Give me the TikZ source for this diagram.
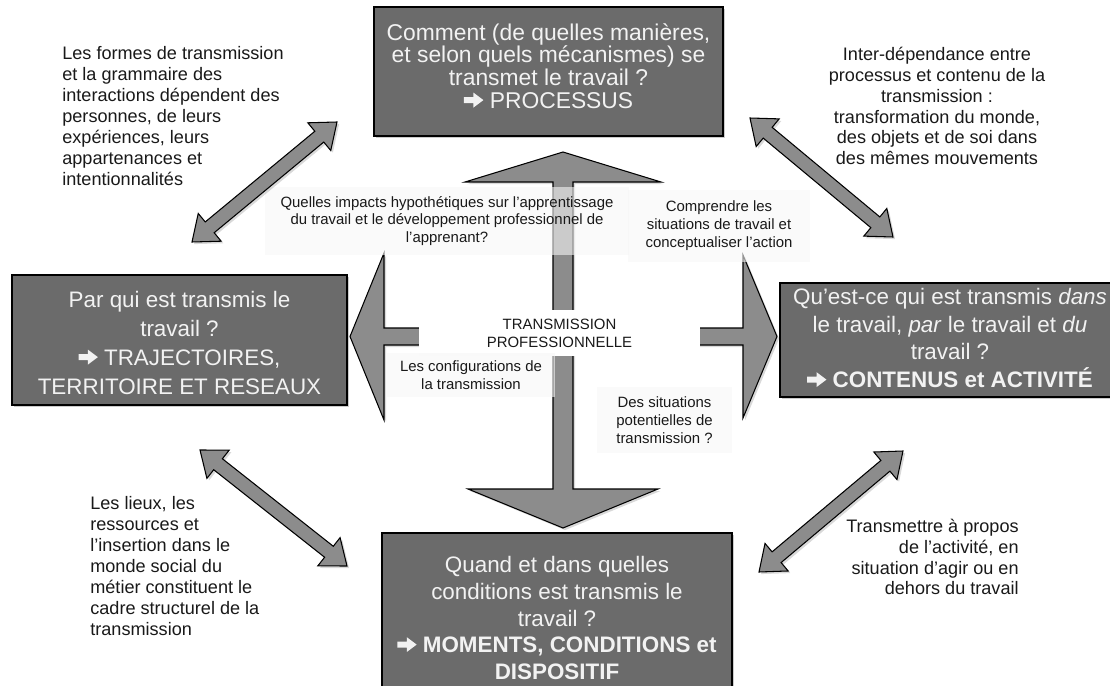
\documentclass[tikz,border=0pt]{standalone}
\usepackage{fontspec}
\setmainfont{Liberation Sans}
\usetikzlibrary{calc,shadows}
\definecolor{boxfill}{RGB}{107,107,107}
\definecolor{boxtext}{RGB}{242,242,242}
\definecolor{arrfill}{RGB}{140,140,140}
\definecolor{labbg}{RGB}{246,246,246}
\definecolor{txtcol}{RGB}{25,25,25}
\newcommand{\harr}{\tikz[baseline=0pt, x=1em, y=1em]
  \fill[line join=miter] (0,0.24) -- (0.42,0.24) -- (0.42,0.04) -- (0.86,0.37)
  -- (0.42,0.70) -- (0.42,0.50) -- (0,0.50) -- cycle;}
\def\arrHL{0.46cm}
\def\arrHW{0.36cm}
\def\arrSW{0.14cm}
\newcommand{\dblarrow}[2]{%
  \filldraw[shapearrow] (#1)
    -- ($(#1)!\arrHL!(#2)!\arrHW!90:(#2)$)
    -- ($(#1)!\arrHL!(#2)!\arrSW!90:(#2)$)
    -- ($(#2)!\arrHL!(#1)!\arrSW!-90:(#1)$)
    -- ($(#2)!\arrHL!(#1)!\arrHW!-90:(#1)$)
    -- (#2)
    -- ($(#2)!\arrHL!(#1)!\arrHW!90:(#1)$)
    -- ($(#2)!\arrHL!(#1)!\arrSW!90:(#1)$)
    -- ($(#1)!\arrHL!(#2)!\arrSW!-90:(#2)$)
    -- ($(#1)!\arrHL!(#2)!\arrHW!-90:(#2)$)
    -- cycle;}
\begin{document}
\begin{tikzpicture}[x=0.02cm,y=-0.02cm,
  bigbox/.style={draw=black, line width=1.2pt, fill=boxfill,
    drop shadow={shadow xshift=1.3pt, shadow yshift=-1.3pt, opacity=0.4}},
  boxtxt/.style={text=boxtext, align=center, inner sep=0pt,
    font=\fontsize{12.75}{16}\selectfont},
  outtxt/.style={text=txtcol, inner sep=0pt, font=\fontsize{10.3}{11.9}\selectfont},
  lab/.style={fill=labbg, fill opacity=0.6, text opacity=1, text=txtcol,
    align=center, inner sep=0pt, font=\fontsize{8.5}{10.2}\selectfont},
  shapearrow/.style={draw=black, line width=0.6pt, fill=arrfill, line join=miter,
    drop shadow={shadow xshift=1.2pt, shadow yshift=-1.2pt, opacity=0.3}}]
\useasboundingbox (0,0) rectangle (1110,686);
\clip (0,0) rectangle (1110,686);

% central four-way arrow
\filldraw[shapearrow] (563,152) -- (661,182) -- (573,182) -- (573,328) -- (743,328)
  -- (743,255) -- (777,336.5) -- (743,418) -- (743,345) -- (573,345) -- (573,489)
  -- (658,489) -- (563,528) -- (468,489) -- (553,489) -- (553,345) -- (384,345)
  -- (384,420) -- (350,336.5) -- (384,253) -- (384,328) -- (553,328) -- (553,182)
  -- (465,182) -- cycle;

% inner labels
\node[lab, minimum width=7.28cm, minimum height=1.36cm] (qlab) at (447,221)
  {Quelles impacts hypothétiques sur l’apprentissage\\ du travail et le développement professionnel de\\ l’apprenant?};
\node[lab, minimum width=3.66cm, minimum height=1.44cm] (clab) at (719,226)
  {Comprendre les\\ situations de travail et\\ conceptualiser l’action};
\node[lab, fill=white, fill opacity=1, minimum width=5.62cm, minimum height=0.92cm] (tlab) at (559.5,333)
  {TRANSMISSION\\ PROFESSIONNELLE};
\node[lab, minimum width=3.36cm, minimum height=0.9cm] (llab) at (471,375)
  {Les configurations de\\ la transmission};
\node[lab, minimum width=2.7cm, minimum height=1.32cm] (dlab) at (664.5,420)
  {Des situations\\ potentielles de\\ transmission ?};

% diagonal double arrows
\coordinate (a1s) at (192,242); \coordinate (a1e) at (337,122);
\coordinate (a2s) at (750,118); \coordinate (a2e) at (893,237);
\coordinate (a3s) at (200,450); \coordinate (a3e) at (347,566);
\coordinate (a4s) at (759,572); \coordinate (a4e) at (903,451);
\dblarrow{a1s}{a1e}
\dblarrow{a2s}{a2e}
\dblarrow{a3s}{a3e}
\dblarrow{a4s}{a4e}

% main boxes
\node[bigbox, minimum width=6.98cm, minimum height=2.58cm] (topbox) at (548.5,71.5) {};
\node[boxtxt, font=\fontsize{13}{13}\selectfont] (toptxt) at (548.5,66)
  {Comment (de quelles manières,\\ et selon quels mécanismes) se\\ transmet le travail ?\\ \harr\ PROCESSUS};
\node[bigbox, minimum width=6.7cm, minimum height=2.6cm] (leftbox) at (179.5,340) {};
\node[boxtxt, font=\fontsize{12.75}{16.4}\selectfont] (lefttxt) at (179.5,343)
  {Par qui est transmis le\\ travail ?\\ \harr\ TRAJECTOIRES,\\ TERRITOIRE ET RESEAUX};
\node[bigbox, minimum width=6.84cm, minimum height=2.28cm] (rightbox) at (951,340) {};
\node[boxtxt, font=\fontsize{12.75}{15.9}\selectfont] (righttxt) at (950,338)
  {Qu’est-ce qui est transmis \textit{dans}\\ le travail, \textit{par} le travail et \textit{du}\\ travail ?\\ \harr\ \textbf{CONTENUS et ACTIVITÉ}};
\node[bigbox, minimum width=7cm, minimum height=3.44cm] (botbox) at (557,619) {};
\node[boxtxt, font=\fontsize{12.75}{15.3}\selectfont] (bottxt) at (557,618)
  {Quand et dans quelles\\ conditions est transmis le\\ travail ?\\ \harr\ \textbf{MOMENTS, CONDITIONS et}\\ \textbf{DISPOSITIF}};

% outer comments
\node[outtxt, align=left, anchor=west] (tltxt) at (62,116)
  {Les formes de transmission\\ et la grammaire des\\ interactions dépendent des\\ personnes, de leurs\\ expériences, leurs\\ appartenances et\\ intentionnalités};
\node[outtxt, align=center] (trtxt) at (937,106)
  {Inter-dépendance entre\\ processus et contenu de la\\ transmission :\\ transformation du monde,\\ des objets et de soi dans\\ des mêmes mouvements};
\node[outtxt, align=left, anchor=west] (bltxt) at (90,566)
  {Les lieux, les\\ ressources et\\ l’insertion dans le\\ monde social du\\ métier constituent le\\ cadre structurel de la\\ transmission};
\node[outtxt, align=right, anchor=east] (brtxt) at (1019,557)
  {Transmettre à propos\\ de l’activité, en\\ situation d’agir ou en\\ dehors du travail};
\end{tikzpicture}
\end{document}
